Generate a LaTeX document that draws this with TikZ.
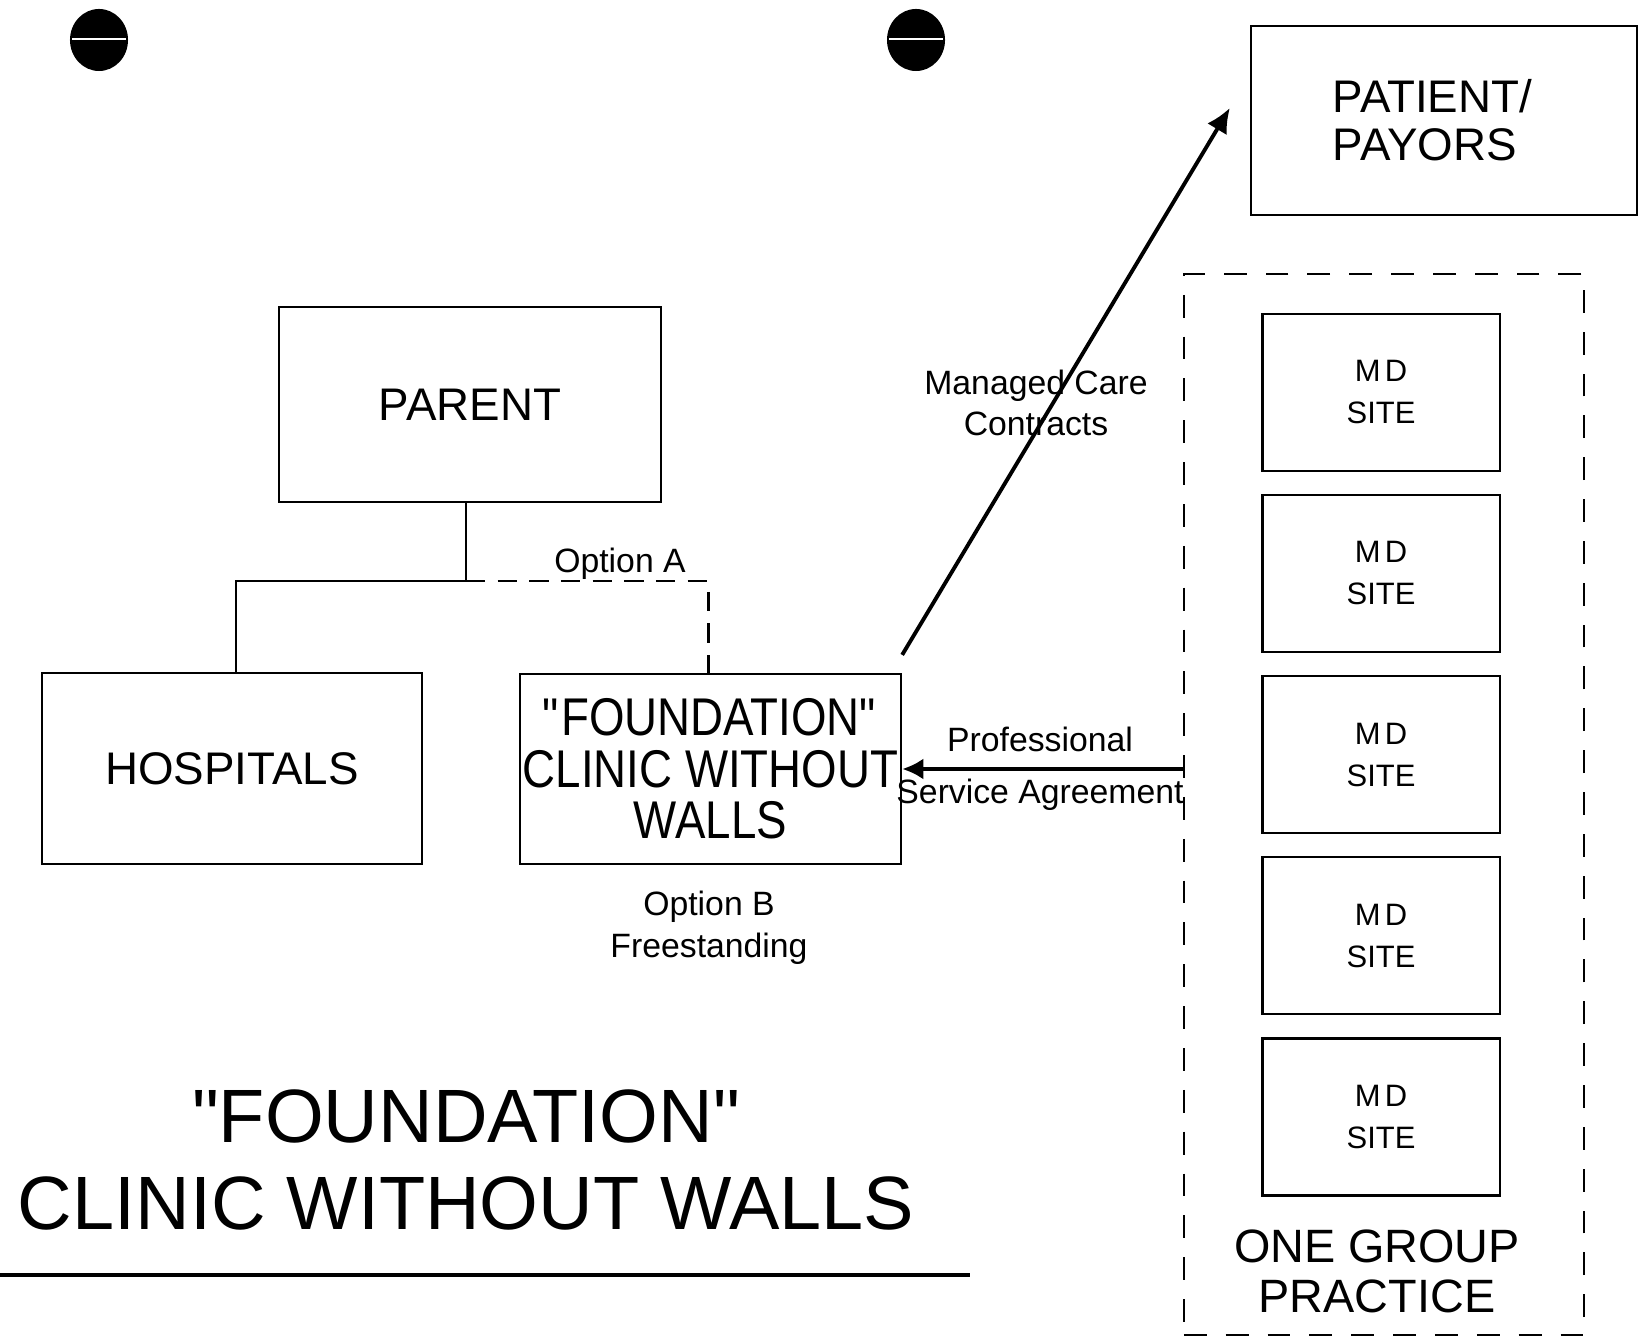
\documentclass[tikz,border=0pt]{standalone}
\usepackage{fontspec}
\setmainfont{Liberation Sans}
\newfontfamily\narrowfont[FakeStretch=0.86]{Liberation Sans}
\usetikzlibrary{arrows.meta}

\begin{document}
\begin{tikzpicture}[x=0.01cm, y=-0.01cm,
  box/.style={draw, line width=0.6pt, inner sep=0pt, align=center},
  mdbox/.style={box, minimum width=2.37cm, minimum height=1.57cm,
    font=\fontsize{8.8}{11.9}\selectfont},
  lbl/.style={align=center, inner sep=0pt, font=\fontsize{9.6}{11.9}\selectfont}]
  \useasboundingbox (0,0) rectangle (1639,1340);

  % Punch holes
  \foreach \x in {99,916} {
    \fill (\x,40) ellipse [x radius=0.29cm, y radius=0.31cm];
    \draw[white, line width=0.4pt] (\x-27,39) -- (\x+27,39);
  }

  % Boxes
  \node[box, minimum width=3.82cm, minimum height=1.95cm,
    font=\fontsize{13}{15}\selectfont] (parent) at (470,404.5) {PARENT};
  \node[box, minimum width=3.80cm, minimum height=1.91cm,
    font=\fontsize{13}{15}\selectfont] (hospitals) at (232,768.5) {HOSPITALS};
  \node[box, minimum width=3.81cm, minimum height=1.90cm,
    font=\narrowfont\fontsize{15.1}{14.6}\selectfont] (foundation) at (710.5,769)
    {\textquotedbl FOUNDATION\textquotedbl\\CLINIC WITHOUT\\WALLS};
  \node[box, minimum height=1.89cm, inner xsep=0.82cm, text width=2.22cm, align=left,
    font=\fontsize{13}{13.7}\selectfont] (patient) at (1444,120.5) {PATIENT/\\PAYORS};

  % Group practice
  \node[draw, dash pattern=on 6.5pt off 5.4pt, line width=0.6pt,
    minimum width=4.0cm, minimum height=10.61cm] (group) at (1384,804.5) {};
  \foreach \i in {1,...,5}
    \node[mdbox] (md\i) at (1381,211+181.2*\i) {M\kern1.2pt D\\SITE};
  \node[lbl, font=\fontsize{13.3}{14.2}\selectfont] (practice) at (1377,1271)
    {ONE GROUP\\PRACTICE};

  % Tree
  \draw[line width=0.6pt] ([xshift=-0.04cm]parent.south) -- ++(0,78) coordinate (split)
    -| ([xshift=0.04cm]hospitals.north);
  \draw[line width=0.6pt, dash pattern=on 5.5pt off 3.5pt] (split) -| ([xshift=-0.02cm]foundation.north);
  \node[lbl] (opta) at (620,564) {Option A};
  \node[lbl] (optb) at (709,928) {Option B\\Freestanding};

  % Contracts
  \draw[-{Latex[length=7pt,width=6.5pt]}, line width=1.1pt]
    ([yshift=0.18cm]foundation.north east) -- ([xshift=-0.2cm,yshift=0.125cm]patient.west);
  \node[lbl, font=\fontsize{9.6}{11.6}\selectfont] (mcc) at (1036,403)
    {Managed Care\\Contracts};
  \draw[-{Latex[length=6pt,width=6pt]}, line width=1.2pt]
    (group.west |- foundation.east) -- (foundation.east);
  \node[lbl, font=\fontsize{9.6}{14.8}\selectfont] (psa) at (1040,769)
    {Professional\\Service Agreement};

  % Title
  \node[align=center, inner sep=0pt, font=\fontsize{21.5}{24.5}\selectfont] (title)
    at (466,1160) {\textquotedbl FOUNDATION\textquotedbl\\CLINIC WITHOUT WALLS};
  \coordinate (rulel) at (0,1275);
  \coordinate (ruler) at (970,1275);
  \draw[line width=1.4pt] (rulel) -- (ruler);
\end{tikzpicture}
\end{document}
